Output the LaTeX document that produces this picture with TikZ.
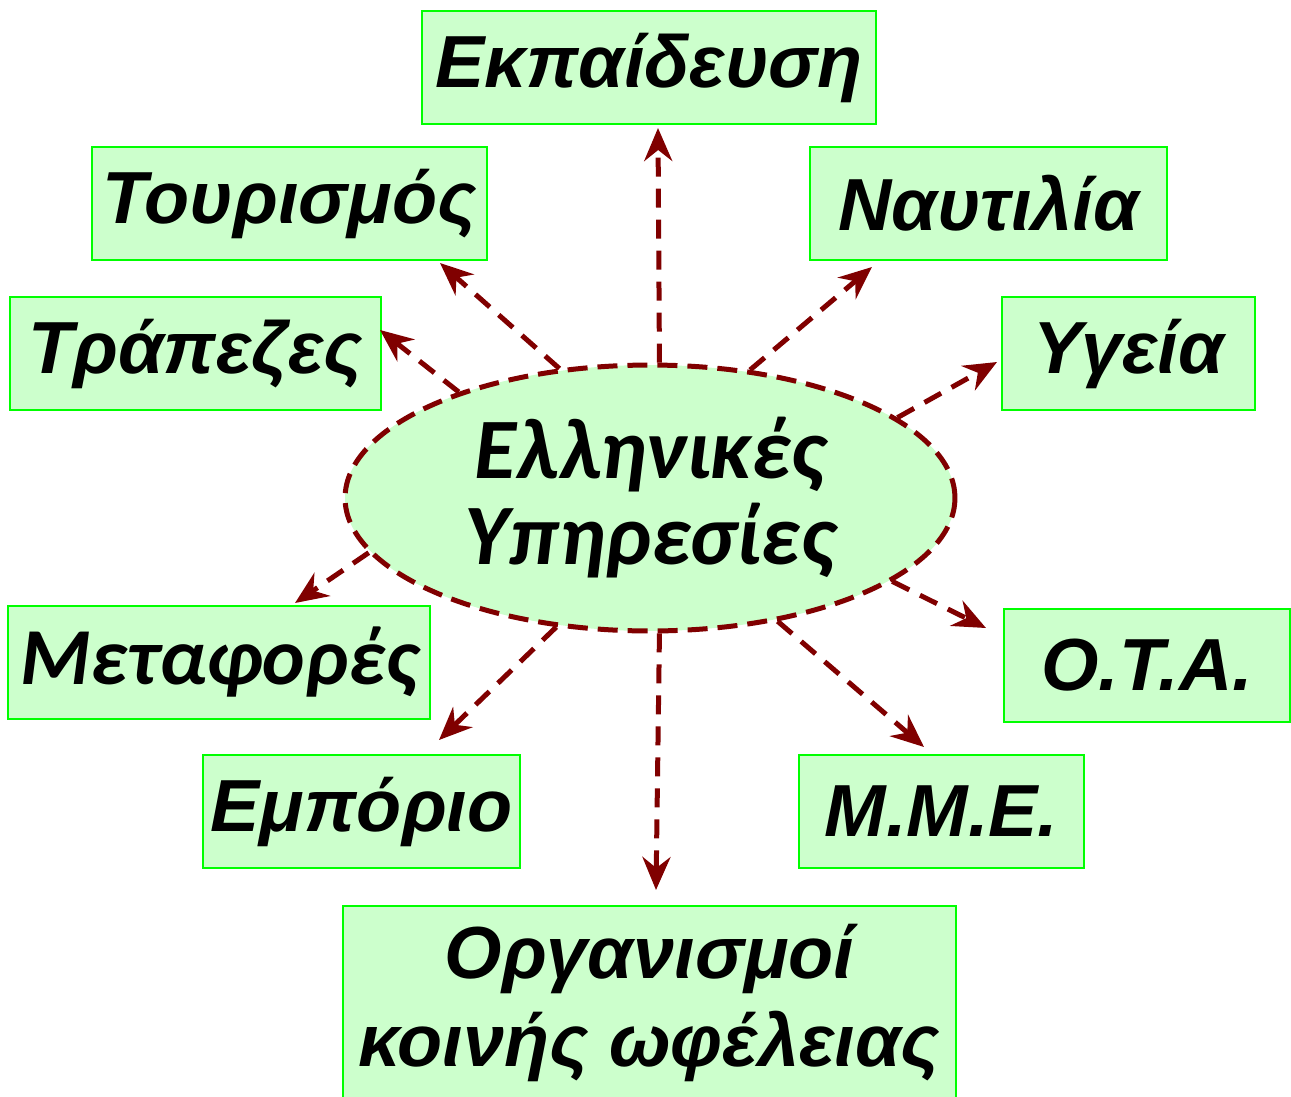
\documentclass[tikz,border=0pt]{standalone}
\usepackage{fontspec}
\setmainfont{Liberation Sans}
\newfontfamily\humfont{Carlito}
\usetikzlibrary{shapes.geometric,arrows.meta}
\definecolor{boxgreen}{RGB}{204,255,204}
\definecolor{edgegreen}{RGB}{0,255,0}
\definecolor{arrowred}{RGB}{128,0,0}

\begin{document}
\begin{tikzpicture}[
    x=0.02cm, y=-0.02cm,
    box/.style={rectangle, draw=edgegreen, fill=boxgreen, line width=0.04cm,
                inner sep=0pt, minimum height=2.26cm, align=center,
                font=\fontsize{42}{50}\selectfont\bfseries\itshape},
    hub/.style={ellipse, draw=arrowred, fill=boxgreen, line width=0.1cm,
                dash pattern=on 0.4cm off 0.2cm, inner sep=0pt,
                minimum width=12.2cm, minimum height=5.32cm, align=center,
                font=\humfont\fontsize{49}{49}\selectfont\bfseries\itshape},
    arrow/.style={-{Stealth[length=0.66cm, width=0.56cm, inset=0.22cm]}, draw=arrowred,
                  line width=0.1cm, dash pattern=on 0.38cm off 0.24cm}
]
\useasboundingbox (0,0) rectangle (1291,1096);

% centre
\node[hub] (ell) at (650,498) {Ελληνικές\\Υπηρεσίες};

% sectors
\node[box, minimum width=9.08cm] (edu) at (649,67.5) {Εκπαίδευση};
\node[box, minimum width=7.9cm] (tour) at (289.5,203.5) {Τουρισμός};
\node[box, minimum width=7.14cm] (naut) at (988.5,203.5) {Ναυτιλία};
\node[box, minimum width=7.42cm] (bank) at (195.5,353.5) {Τράπεζες};
\node[box, minimum width=5.06cm] (health) at (1128.5,353.5) {Υγεία};
\node[box, minimum width=8.44cm, font=\humfont\fontsize{46}{50}\selectfont\bfseries\itshape] (trans) at (219,662.5) {Μεταφορές};
\node[box, minimum width=5.72cm] (ota) at (1147,665.5) {Ο.Τ.Α.};
\node[box, minimum width=6.34cm] (trade) at (361.5,811.5) {Εμπόριο};
\node[box, minimum width=5.7cm] (mme) at (941.5,811.5) {Μ.Μ.Ε.};
\node[box, minimum width=12.26cm, minimum height=3.88cm] (util) at (649.5,1003) {Οργανισμοί\\κοινής ωφέλειας};

% arrow tips
\coordinate (tEdu) at (658,128);
\coordinate (tTour) at (440,263);
\coordinate (tNaut) at (872,267);
\coordinate (tBank) at (380,330);
\coordinate (tHealth) at (997,362);
\coordinate (tTrans) at (295,603);
\coordinate (tTrade) at (439,740);
\coordinate (tUtil) at (656,890);
\coordinate (tMme) at (924,747);
\coordinate (tOta) at (986,628);

\draw[arrow] (ell.86) -- (tEdu);
\draw[arrow] (ell.125) -- (tTour);
\draw[arrow] (ell.52) -- (tNaut);
\draw[arrow] (ell.151) -- (tBank);
\draw[arrow] (ell.18) -- (tHealth);
\draw[arrow] (ell.191) -- (tTrans);
\draw[arrow] (ell.234) -- (tTrade);
\draw[arrow] (ell.274) -- (tUtil);
\draw[arrow] (ell.316) -- (tMme);
\draw[arrow] (ell.341) -- (tOta);

\end{tikzpicture}
\end{document}
